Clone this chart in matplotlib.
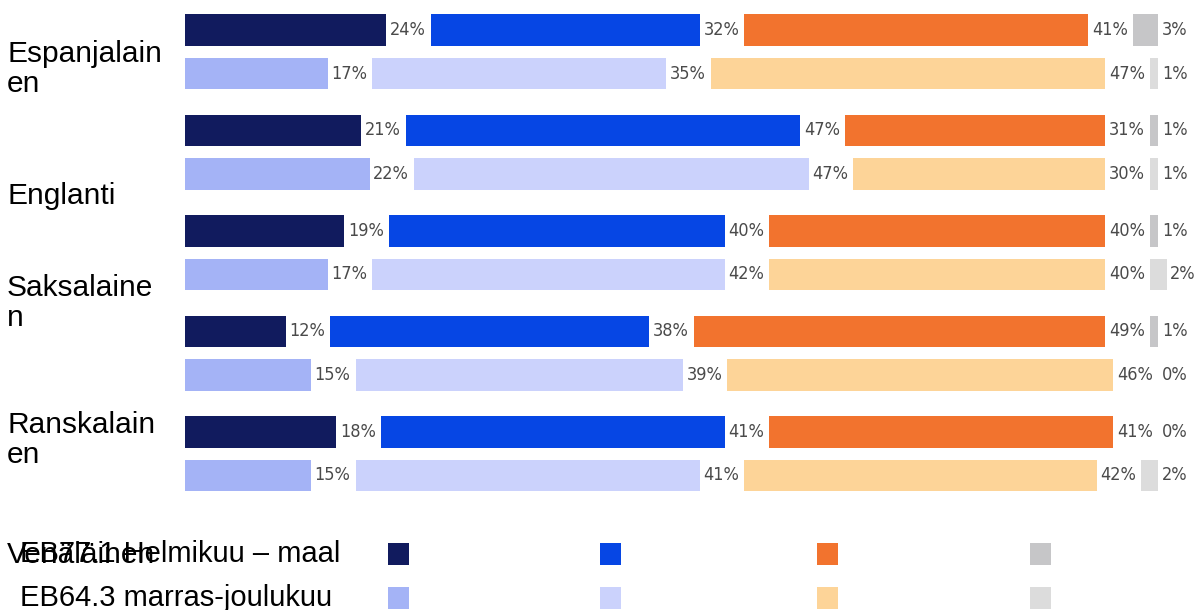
import matplotlib.pyplot as plt
import matplotlib.patches as patches

# data
categories = ["Espanjalain\nen", "Englanti", "Saksalaine\nn", "Ranskalain\nen", "Venäläinen"]
eb77 = [[24, 32, 41, 3],
        [21, 47, 31, 1],
        [19, 40, 40, 1],
        [12, 38, 49, 1],
        [18, 41, 41, 0]]
eb64 = [[17, 35, 47, 1],
        [22, 47, 30, 1],
        [17, 42, 40, 2],
        [15, 39, 46, 0],
        [15, 41, 42, 2]]
series_labels = ["EB77.1 Helmikuu – maal", "EB64.3 marras-joulukuu"]

colors77 = ["#111b5e", "#0646e4", "#f2732e", "#c6c6c8"]
colors64 = ["#a4b3f6", "#cbd2fc", "#fdd498", "#dcdcdc"]

W, H = 1200, 610
GAP = 5.33          # gap between segments (in % units)
PAIR = 0.433        # offset of second row within a group
BAR_H = 0.31

fig = plt.figure(figsize=(W / 100, H / 100), dpi=100)
ax = fig.add_axes([185 / W, 1 - 500 / H, 1010 / W, 500 / H])
ax.set_xlim(0, 1010 / 8.39)
ax.set_ylim(4.677, -0.2985)
ax.axis("off")

pct_font = dict(family="DejaVu Sans", stretch="condensed", fontsize=13, color="#4a4a4a")


def draw_row(y, values, colors):
    left = 0
    for v, c in zip(values, colors):
        ax.barh(y, v, left=left, height=BAR_H, color=c, linewidth=0)
        ax.text(left + v + 0.45, y, f"{v}%", ha="left", va="center", **pct_font)
        left += v + GAP


for g in range(len(categories)):
    draw_row(g, eb77[g], colors77)
    draw_row(g + PAIR, eb64[g], colors64)

# category labels (as placed in the original, not aligned with bars)
label_y = [69, 196, 303, 440, 555]
for name, py in zip(categories, label_y):
    fig.text(7 / W, 1 - py / H, name, ha="left", va="center",
             fontsize=21.5, family="Liberation Sans", linespacing=1.05)

# legend
leg_y = [554, 598]
sq_x = [388, 600, 817, 1030]
for row, (lab, cols) in enumerate(zip(series_labels, [colors77, colors64])):
    fig.text(20 / W, 1 - leg_y[row] / H, lab, ha="left", va="center",
             fontsize=21, family="Liberation Sans")
    for x, c in zip(sq_x, cols):
        fig.add_artist(patches.Rectangle((x / W, 1 - (leg_y[row] + 11) / H), 21 / W, 22 / H,
                                         transform=fig.transFigure, facecolor=c, linewidth=0))

fig.savefig("out.png", dpi=100)
